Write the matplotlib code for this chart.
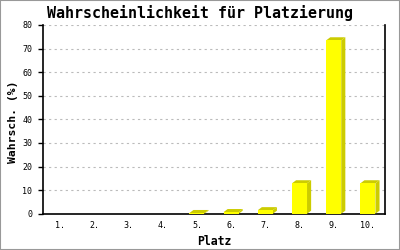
import matplotlib.pyplot as plt
from matplotlib.patches import Rectangle, Polygon

plaetze = ["1.", "2.", "3.", "4.", "5.", "6.", "7.", "8.", "9.", "10."]
wahrsch = [0, 0, 0, 0, 0.3, 0.7, 1.5, 12.9, 73.5, 12.9]
y_ticks = [0, 10, 20, 30, 40, 50, 60, 70, 80]

FRONT = "#ffff00"
SIDE = "#cccc00"
MONO = "DejaVu Sans Mono"

fig = plt.figure(figsize=(4, 2.5), dpi=100)
fig.patches.append(Rectangle((0, 0), 1, 1, transform=fig.transFigure,
                             fill=False, edgecolor="#999999", linewidth=1.5))
ax = fig.add_axes([0.1075, 0.145, 0.855, 0.755])

n = len(plaetze)
xs = [i + 0.5 for i in range(n)]
breite = 0.44
dx, dy = 0.12, 1.3  # 3D-Tiefe in Dateneinheiten

for x, v in zip(xs, wahrsch):
    if v <= 0:
        continue
    l, r = x - breite / 2, x + breite / 2
    ax.add_patch(Polygon([(r, 0), (r + dx, dy), (r + dx, v + dy), (r, v)],
                         closed=True, facecolor=SIDE, edgecolor="none", zorder=3))
    ax.add_patch(Polygon([(l, v), (l + dx, v + dy), (r + dx, v + dy), (r, v)],
                         closed=True, facecolor=SIDE, edgecolor="none", zorder=3))
    ax.bar(x, v, width=breite, color=FRONT, zorder=4)

ax.set_xlim(0, n)
ax.set_ylim(0, 80)
ax.set_xticks(xs)
ax.set_xticklabels(plaetze, fontfamily=MONO, fontsize=6)
ax.set_yticks(y_ticks)
ax.set_yticklabels([str(t) for t in y_ticks], fontfamily=MONO, fontsize=6)
ax.tick_params(axis="x", length=0, pad=5)
ax.tick_params(axis="y", length=3.6, width=1, pad=4)

ax.yaxis.grid(True, linestyle=(0, (2, 3)), color="#bbbbbb", linewidth=0.8)
ax.set_axisbelow(True)
ax.spines["top"].set_visible(False)
for s in ["left", "right", "bottom"]:
    ax.spines[s].set_linewidth(1.2)

ax.set_xlabel("Platz", fontfamily=MONO, fontweight="bold", fontsize=8.3)
ax.xaxis.set_label_coords(0.5, -0.11)
ax.set_ylabel("Wahrsch. (%)", fontfamily=MONO, fontweight="bold", fontsize=8.2)
ax.yaxis.set_label_coords(-0.073, 0.49)
fig.text(0.5, 0.948, "Wahrscheinlichkeit für Platzierung", ha="center", va="center",
         fontfamily=MONO, fontweight="bold", fontsize=10.8)

fig.savefig("out.png", dpi=100)
